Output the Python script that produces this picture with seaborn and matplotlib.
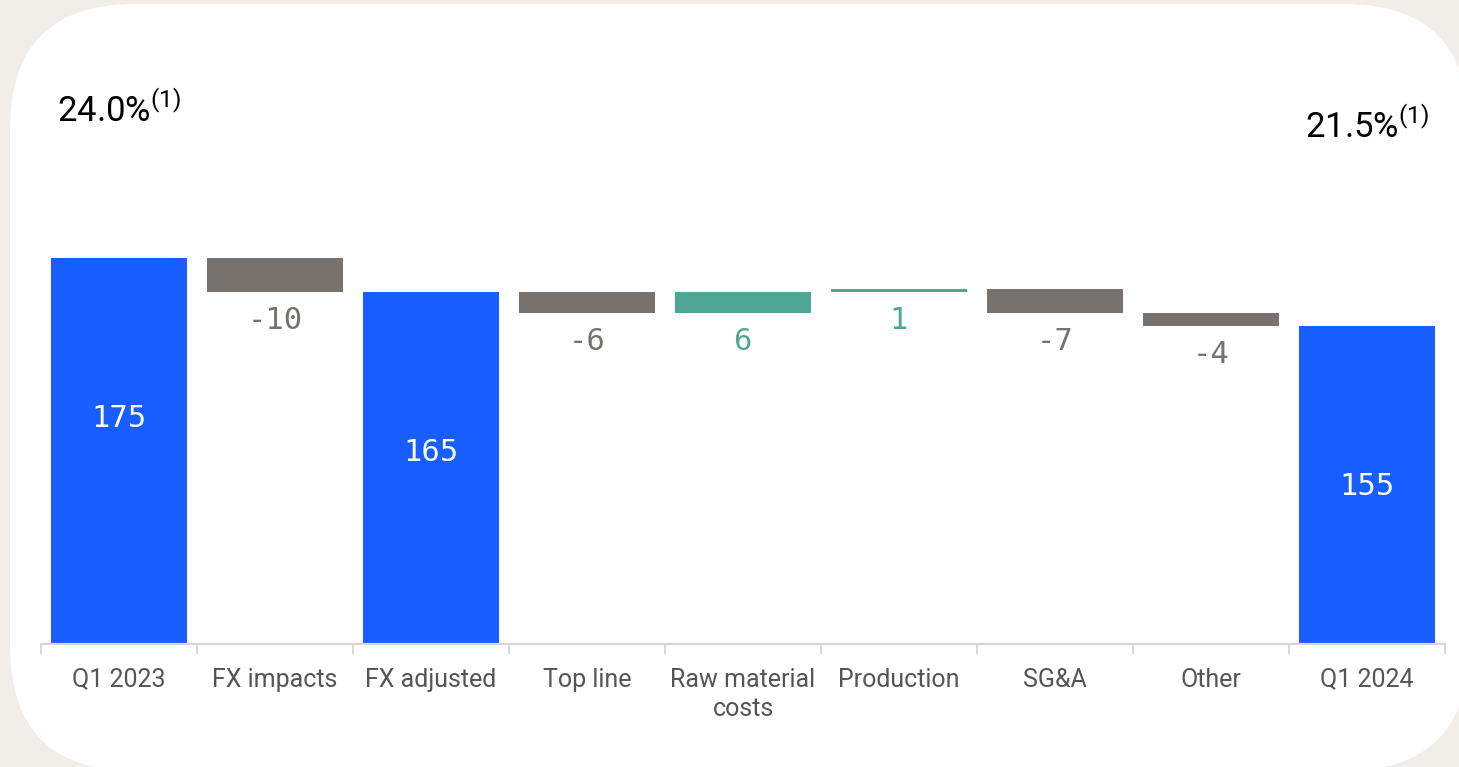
import matplotlib
matplotlib.use("Agg")
import matplotlib.pyplot as plt
from matplotlib.patches import FancyBboxPatch
import seaborn as sns
import pandas as pd
import numpy as np

# ---- data ----
categories = ["Q1 2023", "FX impacts", "FX adjusted", "Top line", "Raw material\ncosts",
              "Production", "SG&A", "Other", "Q1 2024"]
values = [175, -10, 165, -6, 6, 1, -7, -4, 155]
is_total = [True, False, True, False, False, False, False, False, True]
value_labels = ["175", "-10", "165", "-6", "6", "1", "-7", "-4", "155"]
margin_labels = ["24.0%", "21.5%"]
margin_positions = [0, 8]

BLUE = "#175dff"
GREY = "#77726d"
TEAL = "#4fa693"
BG = "#f1eee9"

# waterfall geometry from the values
bottoms, heights, colors = [], [], []
running = 0
for v, tot in zip(values, is_total):
    if tot:
        running = v
        bottoms.append(0)
        heights.append(v)
        colors.append(BLUE)
    else:
        start, end = running, running + v
        bottoms.append(min(start, end))
        heights.append(abs(v))
        colors.append(TEAL if v > 0 else GREY)
        running = end

df = pd.DataFrame({"category": categories, "height": heights})

W, H = 1459, 767
fig = plt.figure(figsize=(W / 100, H / 100), dpi=100, facecolor=BG)

# white rounded card (pixel coordinates)
card = FancyBboxPatch((10, H - 771), 1469 - 10, 771 - 4,
                      boxstyle="round,pad=0,rounding_size=125",
                      transform=None, facecolor="white", edgecolor="none", zorder=-5)
fig.patches.append(card)

ax = fig.add_axes([41 / W, (H - 644) / H, (1445 - 41) / W, 644 / H])
ax.set_facecolor("none")
ax.set_zorder(2)

sns.barplot(data=df, x="category", y="height", order=categories, bottom=bottoms,
            color=BLUE, width=0.873, errorbar=None, ax=ax, linewidth=0,
            saturation=1)
for patch, c in zip(ax.patches, colors):
    patch.set_facecolor(c)
    patch.set_edgecolor("none")

ybot = 61.5
ax.set_ylim(ybot, ybot + 644 / 3.4)
ax.set_xlim(-0.5, len(categories) - 0.5)

# axes styling
for s in ["top", "right", "left"]:
    ax.spines[s].set_visible(False)
ax.spines["bottom"].set_color("#d6d6d6")
ax.spines["bottom"].set_linewidth(1.6)
ax.set_yticks([])
ax.set_xlabel("")
ax.set_ylabel("")
ax.set_xticks(range(len(categories)))
ax.set_xticklabels(categories, fontsize=18, family=["Roboto", "DejaVu Sans"],
                   color="#555555", linespacing=1.3)
ax.tick_params(axis="x", which="major", length=0, pad=17)
ax.set_xticks(np.arange(-0.5, len(categories)), minor=True)
ax.tick_params(axis="x", which="minor", length=7, width=1.3, color="#d6d6d6",
               direction="out")

# value labels
mono = ["DejaVu Sans Mono"]
for i, (lab, tot) in enumerate(zip(value_labels, is_total)):
    if tot:
        ax.annotate(lab, xy=(i, values[i]), xytext=(0, -160), textcoords="offset pixels",
                    ha="center", va="center", fontsize=22, family=mono, color="white")
    else:
        col = TEAL if values[i] > 0 else GREY
        ax.annotate(lab, xy=(i, bottoms[i]), xytext=(0, -14), textcoords="offset pixels",
                    ha="center", va="top", fontsize=22, family=mono, color=col)

# margin labels
margin_y = [1 - 110 / 644, 1 - 126 / 644]
for lab, xpos, yy in zip(margin_labels, margin_positions, margin_y):
    ax.text(xpos, yy, lab + r"$^{\mathregular{(1)}}$", transform=ax.get_xaxis_transform(),
            ha="center", va="center", fontsize=25, family=["Roboto", "DejaVu Sans"],
            color="black")

fig.savefig("out.png", dpi=100, facecolor=BG)
